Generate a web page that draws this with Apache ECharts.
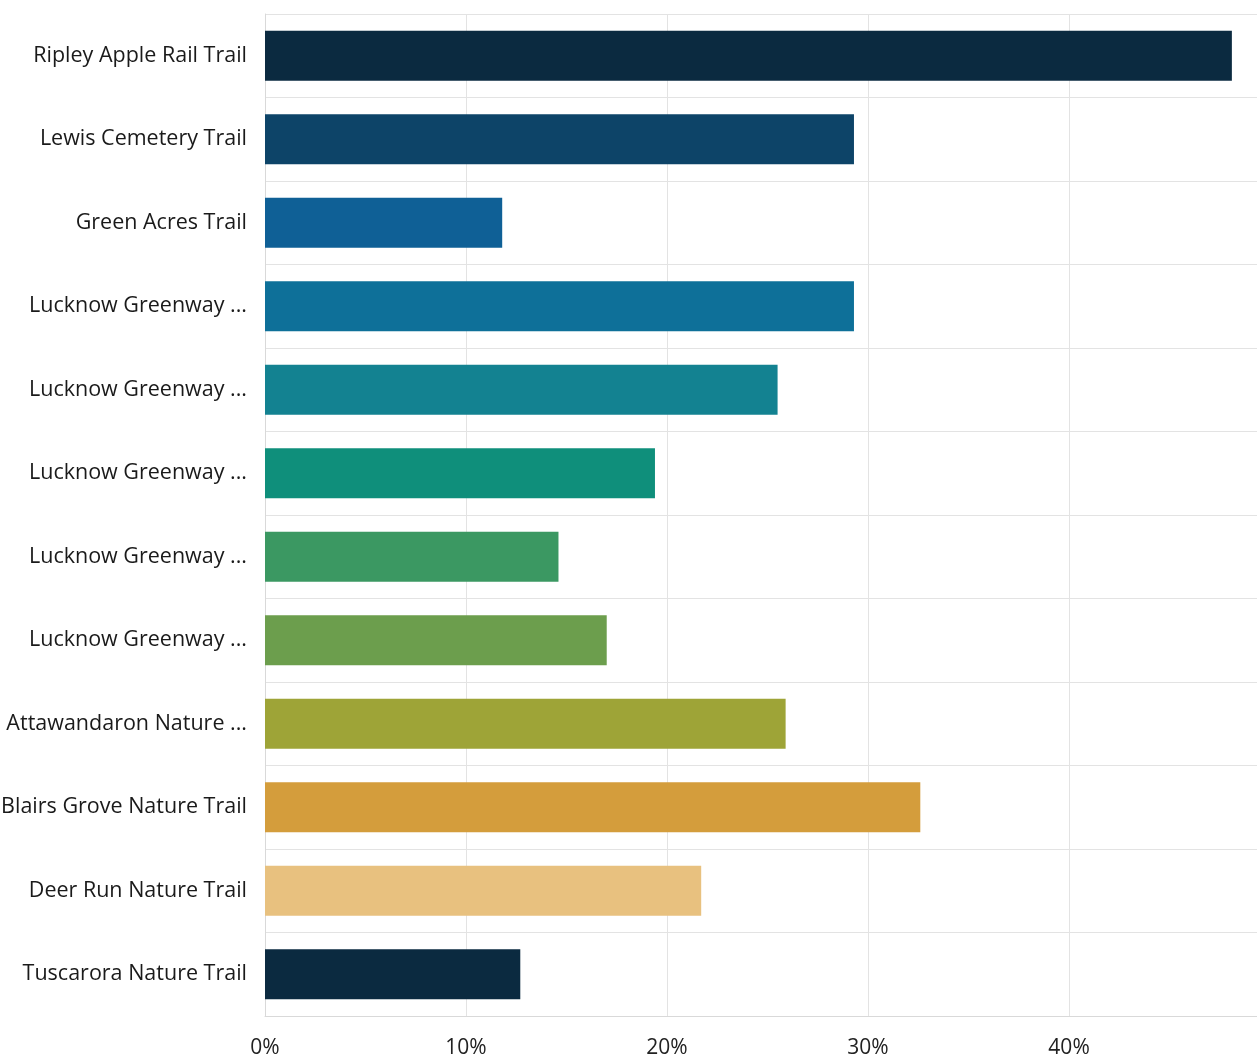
<!DOCTYPE html>
<html><head><meta charset="utf-8">
<script src="https://cdn.jsdelivr.net/npm/echarts@6/dist/echarts.min.js"></script>
<style>html,body{margin:0;padding:0;background:#fff}#c{width:1257px;height:1061px}</style>
</head><body><div id="c"></div>
<script>
const categories = ["Ripley Apple Rail Trail","Lewis Cemetery Trail","Green Acres Trail","Lucknow Greenway ...","Lucknow Greenway ...","Lucknow Greenway ...","Lucknow Greenway ...","Lucknow Greenway ...","Attawandaron Nature ...","Blairs Grove Nature Trail","Deer Run Nature Trail","Tuscarora Nature Trail"];
const values = [48.1, 29.3, 11.8, 29.3, 25.5, 19.4, 14.6, 17.0, 25.9, 32.6, 21.7, 12.7];
const colors = ["#0b2a40","#0d4468","#0f6096","#0e7099","#138291","#0f8f7b","#3b9862","#6c9e4d","#9ea437","#d49d3c","#e8c17f","#0b2a40"];
const xTicks = [0,10,20,30,40];

const chart = echarts.init(document.getElementById('c'));
chart.setOption({
  animation:false,
  grid:{left:265,right:0,top:14,bottom:45,containLabel:false,outerBoundsMode:'none'},
  xAxis:{type:'value',min:0,max:49.35,interval:10,
    axisLine:{show:true,lineStyle:{color:'#d9d9d9'}},
    axisTick:{show:false},
    splitLine:{show:true,lineStyle:{color:'#e3e3e3'}},
    axisLabel:{showMaxLabel:false,fontFamily:'Open Sans',fontSize:21,color:'#222',margin:22,
      formatter:v=>xTicks.includes(v)?v+'%':''}},
  yAxis:{type:'category',inverse:true,data:categories,
    axisLine:{show:true,lineStyle:{color:'#d9d9d9'}},
    axisTick:{show:false},
    splitLine:{show:true,lineStyle:{color:'#e3e3e3'}},
    axisLabel:{fontFamily:'Open Sans',fontSize:21.5,color:'#1a1a1a',margin:18}},
  series:[{type:'bar',barWidth:50,
    data:values.map((v,i)=>({value:v,itemStyle:{color:colors[i]}}))}]
});
</script></body></html>
